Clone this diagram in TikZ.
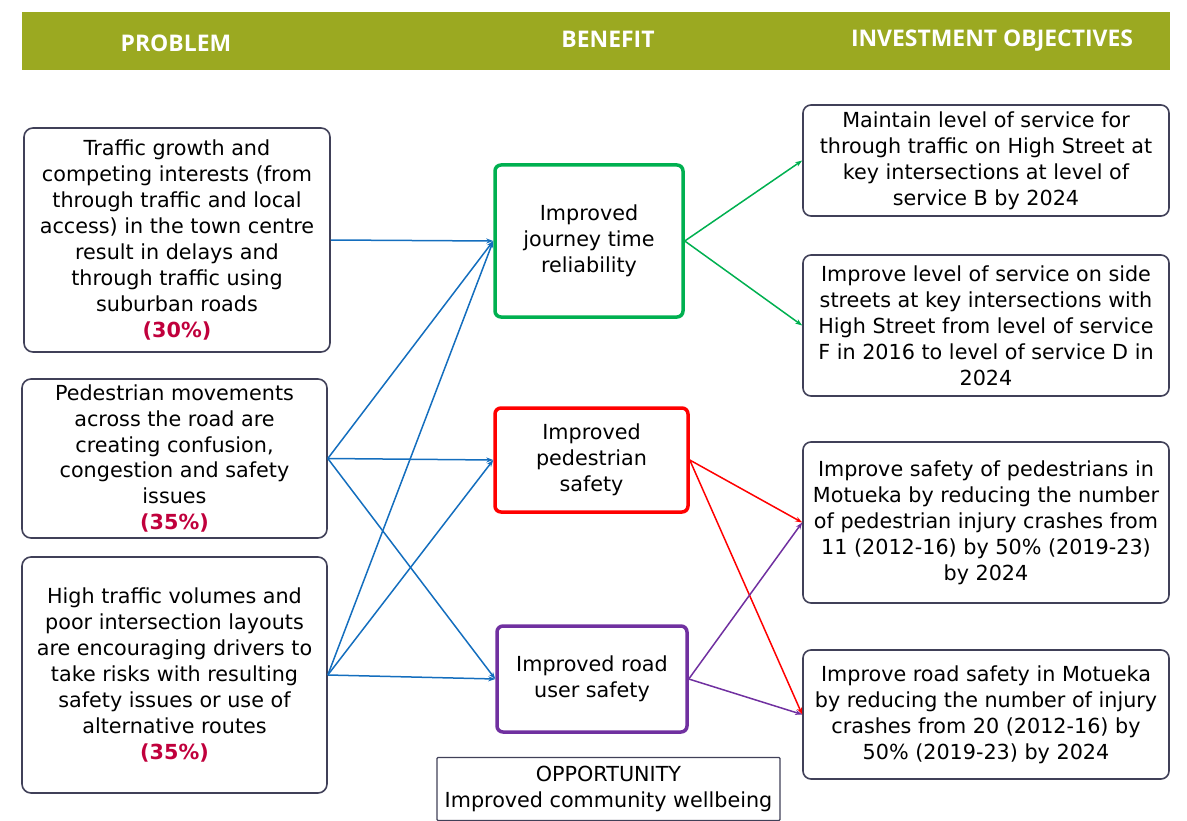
\documentclass[tikz,border=0pt]{standalone}
\usepackage{fontspec}
\setmainfont{DejaVu Sans}
\newfontfamily\headfont{Open Sans}
\usetikzlibrary{arrows.meta}
\definecolor{band}{RGB}{155,169,33}
\definecolor{boxline}{RGB}{64,64,88}
\definecolor{linkblue}{RGB}{20,110,190}
\definecolor{benefitgreen}{RGB}{0,176,80}
\definecolor{benefitred}{RGB}{255,0,0}
\definecolor{benefitpurple}{RGB}{112,48,160}
\definecolor{share}{RGB}{192,0,60}
\tikzset{
  body/.style={font=\fontsize{20.8}{26}\selectfont, align=center},
  problembox/.style={body, draw=boxline, line width=1.6bp, rounded corners=9bp, inner sep=0pt},
  objbox/.style={body, draw=boxline, line width=1.6bp, rounded corners=8bp, inner sep=0pt},
  benefitbox/.style={body, line width=3.5bp, rounded corners=6bp, inner sep=0pt},
  oppbox/.style={body, draw=boxline, line width=1.2bp, rounded corners=1bp, inner sep=0pt},
  headtext/.style={text=white, font=\headfont\fontsize{23}{26}\selectfont\bfseries},
  link/.style={line width=1.5bp, -{Stealth[length=7bp,width=5bp]}}
}
\begin{document}
\begin{tikzpicture}[x=1bp, y=-1bp]
\useasboundingbox (0,0) rectangle (1187,821);

% header band
\fill[band] (22,12) rectangle (1170,70);
\node[headtext] (hp) at (176,43) {PROBLEM};
\node[headtext] (hb) at (608,39) {BENEFIT};
\node[headtext] (ho) at (992,41) {INVESTMENT OBJECTIVES};

% problems
\node[problembox, minimum width=306bp, minimum height=224bp] (p1) at (177,240)
  {Traffic growth and\\competing interests (from\\through traffic and local\\access) in the town centre\\result in delays and\\through traffic using\\suburban roads\\{\color{share}\bfseries (30\%)}};
\node[problembox, minimum width=305bp, minimum height=159bp] (p2) at (174.5,458.5)
  {Pedestrian movements\\across the road are\\creating confusion,\\congestion and safety\\issues\\{\color{share}\bfseries (35\%)}};
\node[problembox, minimum width=305bp, minimum height=236bp] (p3) at (174.5,675)
  {High traffic volumes and\\poor intersection layouts\\are encouraging drivers to\\take risks with resulting\\safety issues or use of\\alternative routes\\{\color{share}\bfseries (35\%)}};

% benefits
\node[benefitbox, draw=benefitgreen, minimum width=188bp, minimum height=152bp] (b1) at (589,241)
  {Improved\\journey time\\reliability};
\node[benefitbox, draw=benefitred, minimum width=193bp, minimum height=104bp] (b2) at (591.5,460)
  {Improved\\pedestrian\\safety};
\node[benefitbox, draw=benefitpurple, minimum width=190bp, minimum height=106bp] (b3) at (592,679)
  {Improved road\\user safety};
\node[oppbox, minimum width=343bp, minimum height=63bp] (opp) at (608.5,789)
  {OPPORTUNITY\\Improved community wellbeing};

% investment objectives
\node[objbox, minimum width=366bp, minimum height=111bp] (o1) at (986,160.5)
  {Maintain level of service for\\through traffic on High Street at\\key intersections at level of\\service B by 2024};
\node[objbox, minimum width=366bp, minimum height=141bp] (o2) at (986,325.5)
  {Improve level of service on side\\streets at key intersections with\\High Street from level of service\\F in 2016 to level of service D in\\2024};
\node[objbox, minimum width=366bp, minimum height=161bp] (o3) at (986,522.5)
  {Improve safety of pedestrians in\\Motueka by reducing the number\\of pedestrian injury crashes from\\11 (2012-16) by 50\% (2019-23)\\by 2024};
\node[objbox, minimum width=366bp, minimum height=129bp] (o4) at (986,714.5)
  {Improve road safety in Motueka\\by reducing the number of injury\\crashes from 20 (2012-16) by\\50\% (2019-23) by 2024};

% problem to benefit links
\draw[link, linkblue] (p1.east) -- (b1.west);
\draw[link, linkblue] (p2.east) -- (b1.west);
\draw[link, linkblue] (p2.east) -- (b2.west);
\draw[link, linkblue] (p2.east) -- (b3.west);
\draw[link, linkblue] (p3.east) -- (b1.west);
\draw[link, linkblue] (p3.east) -- (b2.west);
\draw[link, linkblue] (p3.east) -- (b3.west);

% benefit to objective links
\draw[link, benefitgreen] (b1.east) -- (o1.west);
\draw[link, benefitgreen] (b1.east) -- (o2.west);
\draw[link, benefitred] (b2.east) -- (o3.west);
\draw[link, benefitred] (b2.east) -- (o4.west);
\draw[link, benefitpurple] (b3.east) -- (o3.west);
\draw[link, benefitpurple] (b3.east) -- (o4.west);
\end{tikzpicture}
\end{document}
